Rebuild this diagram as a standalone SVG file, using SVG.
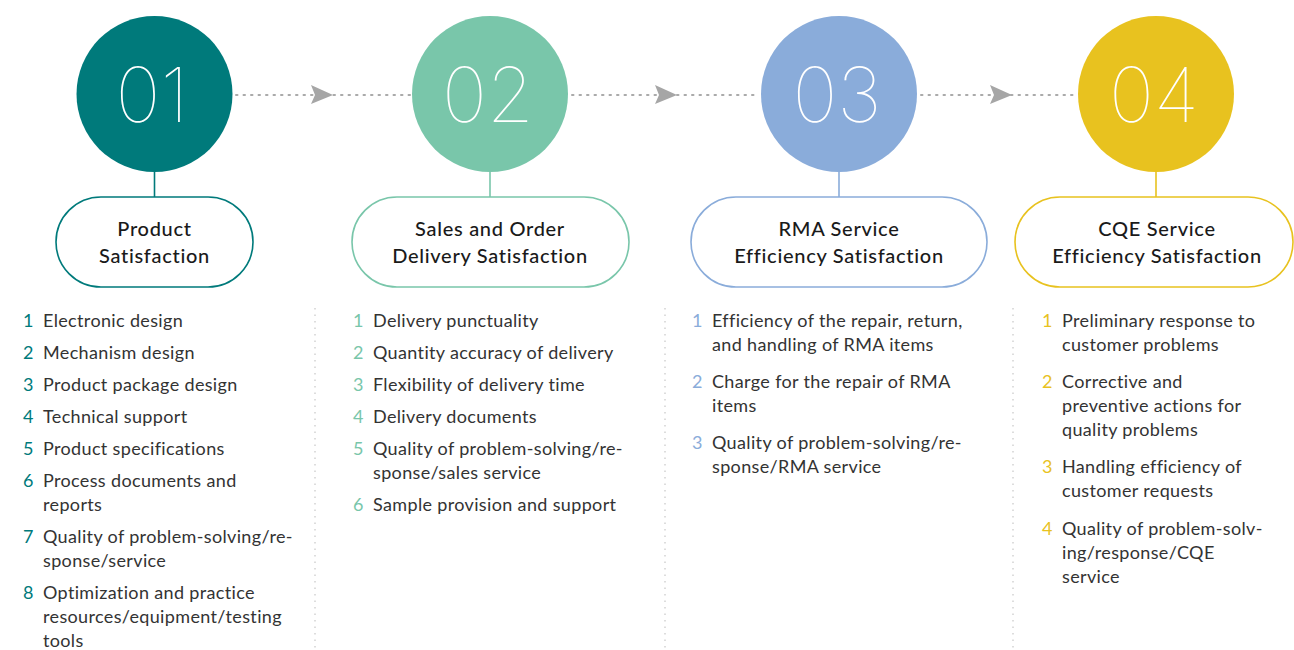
<svg xmlns="http://www.w3.org/2000/svg" width="1294" height="650" viewBox="0 0 1294 650">
<defs>
<style>
.num{font-family:Inter,"Noto Sans",sans-serif;font-weight:100;font-size:76px;fill:#fff;text-anchor:middle}
.ttl{font-family:Lato,"Noto Sans",sans-serif;font-size:20px;letter-spacing:0.7px;fill:#1a1a1a;text-anchor:middle;font-weight:500}
.li{font-family:Lato,"Noto Sans",sans-serif;font-size:18px;letter-spacing:0.35px;fill:#333}
.dot{stroke:#aaa;stroke-width:2;stroke-dasharray:1.5 6;stroke-linecap:round;fill:none}
.sep{stroke:#bbb;stroke-width:1;stroke-dasharray:1.5 5;fill:none}
.pill{fill:#fff;stroke-width:1.6}
</style>
</defs>
<rect width="1294" height="650" fill="#fff"/>
<g id="connectors">
<line class="dot" x1="236" y1="95" x2="410" y2="95"/>
<path d="M311,85 L333,95 L311,104 L315,95 Z" fill="#a6a6a6"/>
<line class="dot" x1="572" y1="95" x2="758" y2="95"/>
<path d="M655,85 L677,95 L655,104 L659,95 Z" fill="#a6a6a6"/>
<line class="dot" x1="921" y1="95" x2="1076" y2="95"/>
<path d="M990,85 L1012,95 L990,104 L994,95 Z" fill="#a6a6a6"/>
<line x1="154.5" y1="172" x2="154.5" y2="197" stroke="#007A7B" stroke-width="1.6"/>
<line x1="490" y1="172" x2="490" y2="197" stroke="#79C6AA" stroke-width="1.6"/>
<line x1="839" y1="172" x2="839" y2="197" stroke="#8AACDA" stroke-width="1.6"/>
<line x1="1156" y1="172" x2="1156" y2="197" stroke="#E8C21F" stroke-width="1.6"/>
<line class="sep" x1="315" y1="308" x2="315" y2="650"/>
<line class="sep" x1="665" y1="308" x2="665" y2="650"/>
<line class="sep" x1="1013" y1="308" x2="1013" y2="650"/>
</g>
<g id="step1">
<circle cx="154.5" cy="94" r="78" fill="#007A7B"/>
<text class="num" x="152" y="122">01</text>
<rect class="pill" x="56" y="197" width="197" height="90" rx="45" stroke="#007A7B"/>
<text class="ttl" x="154.5" y="236">Product</text>
<text class="ttl" x="154.5" y="263">Satisfaction</text>
</g>
<g id="step2">
<circle cx="490" cy="94" r="78" fill="#79C6AA"/>
<text class="num" x="488" y="122">02</text>
<rect class="pill" x="352" y="197" width="277" height="90" rx="45" stroke="#79C6AA"/>
<text class="ttl" x="490" y="236">Sales and Order</text>
<text class="ttl" x="490" y="263">Delivery Satisfaction</text>
</g>
<g id="step3">
<circle cx="839" cy="94" r="78" fill="#8AACDA"/>
<text class="num" x="837" y="122">03</text>
<rect class="pill" x="691" y="197" width="296" height="90" rx="45" stroke="#8AACDA"/>
<text class="ttl" x="839" y="236">RMA Service</text>
<text class="ttl" x="839" y="263">Efficiency Satisfaction</text>
</g>
<g id="step4">
<circle cx="1156" cy="94" r="78" fill="#E8C21F"/>
<text class="num" x="1154" y="122">04</text>
<rect class="pill" x="1015" y="197" width="278" height="90" rx="45" stroke="#E8C21F"/>
<text class="ttl" x="1157" y="236">CQE Service</text>
<text class="ttl" x="1157" y="263">Efficiency Satisfaction</text>
</g>
<g id="list1">
<g class="li" style="fill:#007A7B">
<text x="23" y="327">1</text><text x="23" y="359">2</text><text x="23" y="391">3</text><text x="23" y="423">4</text><text x="23" y="455">5</text><text x="23" y="487">6</text><text x="23" y="543">7</text><text x="23" y="599">8</text>
</g>
<text class="li" x="43" y="327">Electronic design</text>
<text class="li" x="43" y="359">Mechanism design</text>
<text class="li" x="43" y="391">Product package design</text>
<text class="li" x="43" y="423">Technical support</text>
<text class="li" x="43" y="455">Product specifications</text>
<text class="li" x="43" y="487">Process documents and</text>
<text class="li" x="43" y="511">reports</text>
<text class="li" x="43" y="543">Quality of problem-solving/re-</text>
<text class="li" x="43" y="567">sponse/service</text>
<text class="li" x="43" y="599">Optimization and practice</text>
<text class="li" x="43" y="623">resources/equipment/testing</text>
<text class="li" x="43" y="647">tools</text>
</g>
<g id="list2">
<g class="li" style="fill:#79C6AA">
<text x="353" y="327">1</text><text x="353" y="359">2</text><text x="353" y="391">3</text><text x="353" y="423">4</text><text x="353" y="455">5</text><text x="353" y="511">6</text>
</g>
<text class="li" x="373" y="327">Delivery punctuality</text>
<text class="li" x="373" y="359">Quantity accuracy of delivery</text>
<text class="li" x="373" y="391">Flexibility of delivery time</text>
<text class="li" x="373" y="423">Delivery documents</text>
<text class="li" x="373" y="455">Quality of problem-solving/re-</text>
<text class="li" x="373" y="479">sponse/sales service</text>
<text class="li" x="373" y="511">Sample provision and support</text>
</g>
<g id="list3">
<g class="li" style="fill:#8AACDA">
<text x="692" y="327">1</text><text x="692" y="388">2</text><text x="692" y="449">3</text>
</g>
<text class="li" x="712" y="327">Efficiency of the repair, return,</text>
<text class="li" x="712" y="351">and handling of RMA items</text>
<text class="li" x="712" y="388">Charge for the repair of RMA</text>
<text class="li" x="712" y="412">items</text>
<text class="li" x="712" y="449">Quality of problem-solving/re-</text>
<text class="li" x="712" y="473">sponse/RMA service</text>
</g>
<g id="list4">
<g class="li" style="fill:#E8C21F">
<text x="1042" y="327">1</text><text x="1042" y="388">2</text><text x="1042" y="473">3</text><text x="1042" y="535">4</text>
</g>
<text class="li" x="1062" y="327">Preliminary response to</text>
<text class="li" x="1062" y="351">customer problems</text>
<text class="li" x="1062" y="388">Corrective and</text>
<text class="li" x="1062" y="412">preventive actions for</text>
<text class="li" x="1062" y="436">quality problems</text>
<text class="li" x="1062" y="473">Handling efficiency of</text>
<text class="li" x="1062" y="497">customer requests</text>
<text class="li" x="1062" y="535">Quality of problem-solv-</text>
<text class="li" x="1062" y="559">ing/response/CQE</text>
<text class="li" x="1062" y="583">service</text>
</g>
</svg>
